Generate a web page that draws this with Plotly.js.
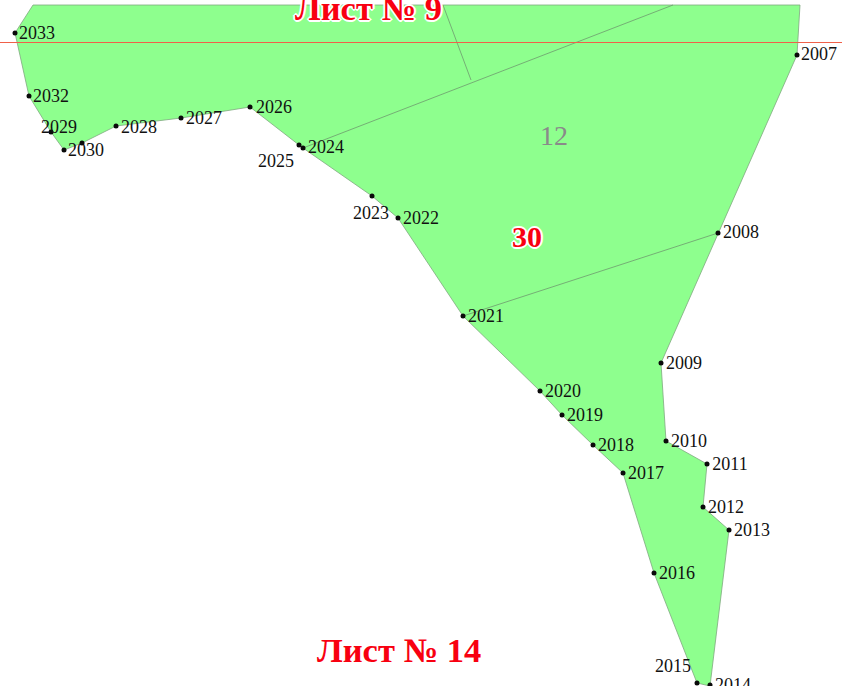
<!DOCTYPE html>
<html><head><meta charset="utf-8">
<script src="https://cdn.plot.ly/plotly-3.0.1.min.js"></script>
<style>html,body{margin:0;padding:0;background:#fff}#c{width:842px;height:686px}</style></head>
<body><div id="c"></div>
<script>
// Parcel outline, in picture coordinates
const outlineX=[33,800,797,718,661,666,707,703,729,710,697,654,623,593,562,540,463,398,372,303,299,250,181,116,82,64,51,29,15,33];
const outlineY=[5,5,55,233,363,441,464,507,530,686,683,573,473,445,415,391,316,218,196,148,145,107,118,126,143,150,132,96,33,5];
// Survey points
const pointX=[797,718,661,666,707,703,729,710,697,654,623,593,562,540,463,398,372,303,299,250,181,116,82,64,51,29,15];
const pointY=[55,233,363,441,464,507,530,685,683,573,473,445,415,391,316,218,196,148,145,107,118,126,143,150,132,96,33];
// Point labels
const labelText=["2007","2008","2009","2010","2011","2012","2013","2014","2015","2016","2017","2018","2019","2020","2021","2022","2023","2024","2025","2026","2027","2028","2029","2030","2032","2033"];
const labelX=[819,741,684,689,730,726,752,733,673,677,646,616,585,563,486,421,371,326,276,274,204,139,59,86,51,37];
const labelY=[55,233,364,442,465,508,531,686,667,574,474,446,416,392,317,219,214,148,162,108,119,128,128,151,97,34];
// Inner boundaries and the sheet line
const innerAX=[463,718], innerAY=[316,233];
const innerBX=[303,673], innerBY=[148,5];
const innerCX=[443,471], innerCY=[5,80];
const sheetX=[0,842], sheetY=[42.5,42.5];

const serif='"Liberation Serif","Times New Roman",serif';
const inner=(x,y)=>({x,y,mode:'lines',line:{color:'#6f9a6f',width:0.8},hoverinfo:'skip'});
const traces=[
 {x:outlineX,y:outlineY,mode:'lines',fill:'toself',fillcolor:'#8eff8e',line:{color:'#7fa87f',width:0.8},hoverinfo:'skip'},
 inner(innerAX,innerAY),inner(innerBX,innerBY),inner(innerCX,innerCY),
 {x:sheetX,y:sheetY,mode:'lines',line:{color:'#f0604a',width:1},hoverinfo:'skip'},
 {x:pointX,y:pointY,mode:'markers',marker:{color:'#0a0a0a',size:5},hoverinfo:'skip'},
 {x:labelX,y:labelY,text:labelText,mode:'text',textposition:'middle center',
  textfont:{family:serif,size:18,color:'#111'},hoverinfo:'skip'}
];
const halo='1px 1px 0 #fff,-1px -1px 0 #fff,1px -1px 0 #fff,-1px 1px 0 #fff,2px 0 0 #fff,-2px 0 0 #fff,0 2px 0 #fff,0 -2px 0 #fff';
const note=(text,x,y,size,color,shadow)=>({text,x,y,xref:'x',yref:'y',showarrow:false,xanchor:'center',yanchor:'middle',
  font:{family:serif,size,color,shadow:shadow||'none'}});
const layout={
 width:842,height:686,margin:{l:0,r:0,t:0,b:0},showlegend:false,
 paper_bgcolor:'#fff',plot_bgcolor:'#fff',
 xaxis:{range:[0,842],visible:false,fixedrange:true},
 yaxis:{range:[686,0],visible:false,fixedrange:true},
 annotations:[
  note('<b>Лист № 9</b>',368,8,34.5,'#f80010',halo),
  note('<b>Лист № 14</b>',398.5,649.5,34.5,'#f80010'),
  note('<b>30</b>',527,236.5,30,'#f80010',halo),
  note('12',553.5,135,28,'#8a8a8a')
 ]
};
Plotly.newPlot('c',traces,layout,{displayModeBar:false,staticPlot:true});
</script></body></html>
